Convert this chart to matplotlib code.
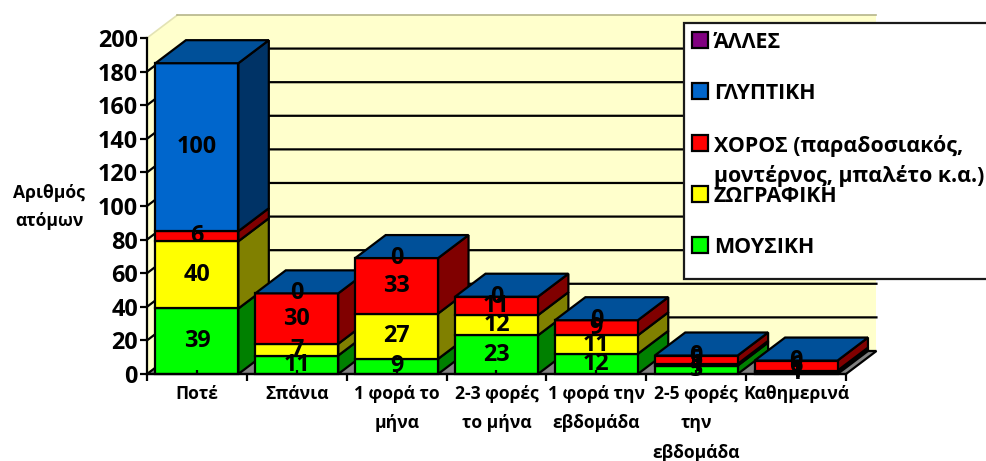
import matplotlib
matplotlib.use('Agg')
import matplotlib.pyplot as plt
from matplotlib.patches import Rectangle

# Data
categories = ['Ποτέ', 'Σπάνια', '1 φορά το\nμήνα', '2-3 φορές\nτο μήνα',
              '1 φορά την\nεβδομάδα', '2-5 φορές\nτην\nεβδομάδα', 'Καθημερινά']
mousiki = [39, 11, 9, 23, 12, 5, 1]
zografiki = [40, 7, 27, 12, 11, 1, 1]
choros = [6, 30, 33, 11, 9, 5, 6]
glyptiki = [100, 0, 0, 0, 0, 0, 0]
y_ticks = [0, 20, 40, 60, 80, 100, 120, 140, 160, 180, 200]
legend_labels = ['ΆΛΛΕΣ', 'ΓΛΥΠΤΙΚΗ', 'ΧΟΡΟΣ (παραδοσιακός,\nμοντέρνος, μπαλέτο κ.α.)', 'ΖΩΓΡΑΦΙΚΗ', 'ΜΟΥΣΙΚΗ']

plt.rcParams['font.family'] = ['Open Sans', 'DejaVu Sans']
plt.rcParams['font.weight'] = 'bold'
plt.rcParams['axes.labelweight'] = 'bold'

W, H = 986, 461
fig = plt.figure(figsize=(W / 100, H / 100), dpi=100)
ax = fig.add_axes([147 / W, (H - 374) / H, 699 / W, 336 / H])
ax.patch.set_visible(False)
ax.set_xlim(0, 7)
ax.set_ylim(0, 200)

# 3D look: every box is shifted back by this much
dx, dy = 0.305, 13.7
lw = 1.6
wall = '#FFFFCC'

# Walls and floor
ax.fill([0, dx, dx, 0], [0, dy, 200 + dy, 200], color=wall, clip_on=False, zorder=0.1, lw=0)
ax.fill([dx, 7 + dx, 7 + dx, dx], [dy, dy, 200 + dy, 200 + dy], color=wall, clip_on=False, zorder=0.1, lw=0)
ax.plot([0, dx], [200, 200 + dy], color='#E3E3B5', lw=1.2, clip_on=False, zorder=0.2)
ax.plot([dx, 7 + dx], [200 + dy, 200 + dy], color='#B5B58A', lw=1.2, clip_on=False, zorder=0.2)
for v in y_ticks[1:-1]:
    ax.plot([0, dx, 7 + dx], [v, v + dy, v + dy], color='black', lw=lw, clip_on=False, zorder=0.3)
ax.fill([0, 7, 7 + dx, dx], [0, 0, dy, dy], facecolor='#808080', edgecolor='black', lw=lw,
        clip_on=False, zorder=0.4)

series = [(mousiki, '#00FF00', '#008000'),
          (zografiki, '#FFFF00', '#808000'),
          (choros, '#FF0000', '#800000'),
          (glyptiki, '#0066CC', '#003366')]
bar_w = 0.83

for i in range(len(categories)):
    z = 1 + i * 0.1
    left = i + (1 - bar_w) / 2
    right = left + bar_w
    base = 0
    for values, front, side in series:
        v = values[i]
        if v > 0:
            ax.fill([right, right + dx, right + dx, right], [base, base + dy, base + v + dy, base + v],
                    facecolor=side, edgecolor='black', lw=lw, clip_on=False, zorder=z)
            ax.bar(i + 0.5, v, bottom=base, width=bar_w, color=front, edgecolor='black', lw=lw,
                   clip_on=False, zorder=z)
        base += v
    ax.fill([left, right, right + dx, left + dx], [base, base, base + dy, base + dy],
            facecolor='#005099', edgecolor='black', lw=lw, clip_on=False, zorder=z)

# Value labels go over all the boxes
for i in range(len(categories)):
    base = 0
    for values, front, side in series:
        v = values[i]
        ax.text(i + 0.5, base + v / 2, str(v), ha='center', va='center', fontsize=16.8, zorder=5)
        base += v

# Axes
for s in ['top', 'right']:
    ax.spines[s].set_visible(False)
for s in ['left', 'bottom']:
    ax.spines[s].set_linewidth(lw)
ax.set_axisbelow(False)
ax.set_yticks(y_ticks)
ax.tick_params(axis='y', labelsize=16.8, length=5, width=lw, pad=1.5)
ax.set_xticks(range(8))
ax.set_xticklabels([])
ax.tick_params(axis='x', which='major', length=5, width=lw)
ax.set_xticks([i + 0.5 for i in range(7)], categories, minor=True)
ax.tick_params(axis='x', which='minor', direction='in', length=3, width=lw, labelsize=12.6, pad=8)
for t in ax.get_xticklabels(minor=True):
    t.set_linespacing(1.8)
ax.set_ylabel('Αριθμός\nατόμων', rotation=0, fontsize=12.6, ha='center', va='center', linespacing=1.65)
ax.yaxis.set_label_coords((49 - 147) / 699, (374 - 207) / 336)

# Legend box, runs off the right edge like the original
fig.add_artist(Rectangle((684 / W, (H - 279) / H), 320 / W, 256 / H, transform=fig.transFigure,
                         facecolor='white', edgecolor='#1a1a1a', lw=lw))
legend_colors = ['#800080', '#0066CC', '#FF0000', '#FFFF00', '#00FF00']
legend_y = [40, 91, 143, 194, 245]
for label, color, y in zip(legend_labels, legend_colors, legend_y):
    fig.add_artist(Rectangle((692 / W, (H - y - 8) / H), 16 / W, 16 / H, transform=fig.transFigure,
                             facecolor=color, edgecolor='black', lw=lw))
    fig.text(714 / W, (H - y + 8) / H, label, ha='left', va='top', fontsize=15.4, linespacing=1.45)

fig.savefig('out.png', dpi=100)
